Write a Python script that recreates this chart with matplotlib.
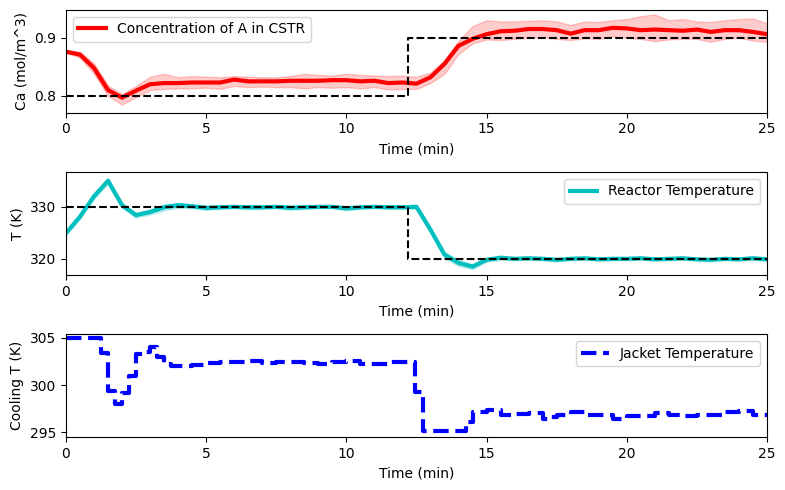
import numpy as np
import matplotlib.pyplot as plt

# === time grid (min) ===
t = np.linspace(0, 25, 51)

# === concentration of A (mean, lower, upper band) ===
Ca = [0.876, 0.871, 0.848, 0.810, 0.797, 0.809, 0.820, 0.822, 0.822, 0.823,
      0.823, 0.823, 0.828, 0.825, 0.825, 0.825, 0.826, 0.826, 0.826, 0.827,
      0.827, 0.825, 0.826, 0.822, 0.823, 0.821, 0.832, 0.855, 0.886, 0.898,
      0.906, 0.911, 0.912, 0.915, 0.915, 0.913, 0.907, 0.913, 0.913, 0.917,
      0.916, 0.913, 0.914, 0.913, 0.912, 0.914, 0.910, 0.913, 0.913, 0.910,
      0.906]
Ca_lo = [0.874, 0.866, 0.838, 0.800, 0.785, 0.798, 0.810, 0.812, 0.813, 0.813,
         0.814, 0.812, 0.817, 0.815, 0.816, 0.815, 0.815, 0.813, 0.815, 0.814,
         0.815, 0.813, 0.815, 0.811, 0.812, 0.812, 0.822, 0.838, 0.872, 0.890,
         0.897, 0.896, 0.898, 0.900, 0.901, 0.898, 0.896, 0.899, 0.898, 0.902,
         0.900, 0.898, 0.894, 0.897, 0.898, 0.898, 0.893, 0.898, 0.900, 0.895,
         0.893]
Ca_hi = [0.878, 0.876, 0.856, 0.818, 0.803, 0.817, 0.833, 0.838, 0.832, 0.834,
         0.833, 0.832, 0.834, 0.833, 0.832, 0.832, 0.834, 0.838, 0.836, 0.835,
         0.838, 0.836, 0.835, 0.834, 0.835, 0.833, 0.840, 0.862, 0.895, 0.920,
         0.930, 0.928, 0.928, 0.929, 0.930, 0.928, 0.922, 0.928, 0.927, 0.930,
         0.932, 0.937, 0.940, 0.930, 0.932, 0.928, 0.927, 0.930, 0.932, 0.933,
         0.925]

# === reactor temperature (K) and band half width ===
T = [324.9, 328.1, 332.0, 335.0, 330.3, 328.4, 329.0, 329.9, 330.3, 330.1,
     329.8, 329.9, 330.0, 329.9, 329.9, 330.0, 329.8, 329.9, 330.0, 330.0,
     329.7, 329.9, 330.0, 329.9, 329.9, 330.0, 325.6, 320.8, 319.2, 318.5,
     319.8, 320.2, 320.0, 320.1, 320.0, 319.8, 320.0, 320.1, 319.9, 320.0,
     320.0, 320.1, 319.9, 320.0, 320.1, 319.9, 319.8, 320.0, 319.9, 320.1,
     319.9]
T_spread = [0.3, 0.4, 0.5, 0.6, 0.5, 0.5, 0.5, 0.6, 0.5, 0.4,
            0.4, 0.3, 0.3, 0.4, 0.3, 0.3, 0.4, 0.3, 0.3, 0.3,
            0.4, 0.3, 0.3, 0.3, 0.3, 0.4, 0.5, 0.6, 0.6, 0.5,
            0.4, 0.4, 0.3, 0.3, 0.3, 0.3, 0.3, 0.3, 0.3, 0.3,
            0.3, 0.3, 0.3, 0.3, 0.3, 0.3, 0.3, 0.3, 0.3, 0.4,
            0.3]

# === setpoints ===
sp_time = [0, 12.2, 25]
Ca_sp = [0.8, 0.9, 0.9]
T_sp = [330, 320, 320]

# === jacket temperature (step changes) ===
Tc_time = [0, 1.25, 1.5, 1.75, 2.0, 2.25, 2.5, 2.75, 3.0, 3.25, 3.5, 3.75,
           4.5, 5.0, 5.5, 6.0, 6.5, 7.0, 7.5, 8.0, 8.5, 9.0, 9.5, 10.0, 10.5,
           11.0, 11.5, 12.0, 12.45, 12.75, 14.25, 14.5, 15.0, 15.5, 16.0,
           16.5, 17.0, 17.25, 17.5, 18.0, 18.5, 19.0, 19.5, 20.0, 20.5, 21.0,
           21.5, 22.0, 22.5, 23.0, 23.5, 24.0, 24.5, 25.0]
Tc = [305.0, 303.4, 299.4, 298.0, 299.2, 301.0, 303.3, 303.5, 304.0, 303.0,
      302.2, 302.0, 302.1, 302.35, 302.4, 302.45, 302.6, 302.35, 302.4,
      302.4, 302.3, 302.25, 302.4, 302.6, 302.25, 302.2, 302.4, 302.4,
      299.3, 295.1, 296.1, 297.2, 297.4, 296.8, 296.9, 297.0, 296.45, 296.6,
      296.8, 297.2, 296.8, 296.8, 296.45, 296.7, 296.75, 297.0, 296.8,
      296.7, 296.8, 296.85, 297.2, 297.3, 296.8, 296.8]

fig = plt.figure(figsize=(7.85, 4.9), dpi=100)

# === concentration ===
ax1 = plt.subplot(3, 1, 1)
ax1.fill_between(t, Ca_lo, Ca_hi, color="r", alpha=0.2, linewidth=1)
ax1.plot(t, Ca, "r-", linewidth=3, label="Concentration of A in CSTR")
ax1.step(sp_time, Ca_sp, "k--", where="post", linewidth=1.5)
ax1.set_xlim(0, 25)
ax1.set_ylim(0.771, 0.948)
ax1.set_yticks([0.8, 0.9])
ax1.set_ylabel("Ca (mol/m^3)")
ax1.set_xlabel("Time (min)")
ax1.legend(loc="upper left")

# === reactor temperature ===
ax2 = plt.subplot(3, 1, 2)
T_arr = np.array(T)
sp = np.array(T_spread)
ax2.fill_between(t, T_arr - sp, T_arr + sp, color="c", alpha=0.2, linewidth=1)
ax2.plot(t, T, "c-", linewidth=3, label="Reactor Temperature")
ax2.step(sp_time, T_sp, "k--", where="post", linewidth=1.5)
ax2.set_xlim(0, 25)
ax2.set_ylim(316.9, 336.7)
ax2.set_yticks([320, 330])
ax2.set_ylabel("T (K)")
ax2.set_xlabel("Time (min)")
ax2.legend(loc="upper right")

# === jacket temperature ===
ax3 = plt.subplot(3, 1, 3)
ax3.step(Tc_time, Tc, "b--", where="post", linewidth=3, label="Jacket Temperature")
ax3.set_xlim(0, 25)
ax3.set_ylim(294.5, 305.4)
ax3.set_yticks([295, 300, 305])
ax3.set_ylabel("Cooling T (K)")
ax3.set_xlabel("Time (min)")
ax3.legend(loc="upper right")

plt.subplots_adjust(left=0.084, right=0.977, top=0.98, bottom=0.108, hspace=0.575)
plt.savefig("out.png", dpi=100)
